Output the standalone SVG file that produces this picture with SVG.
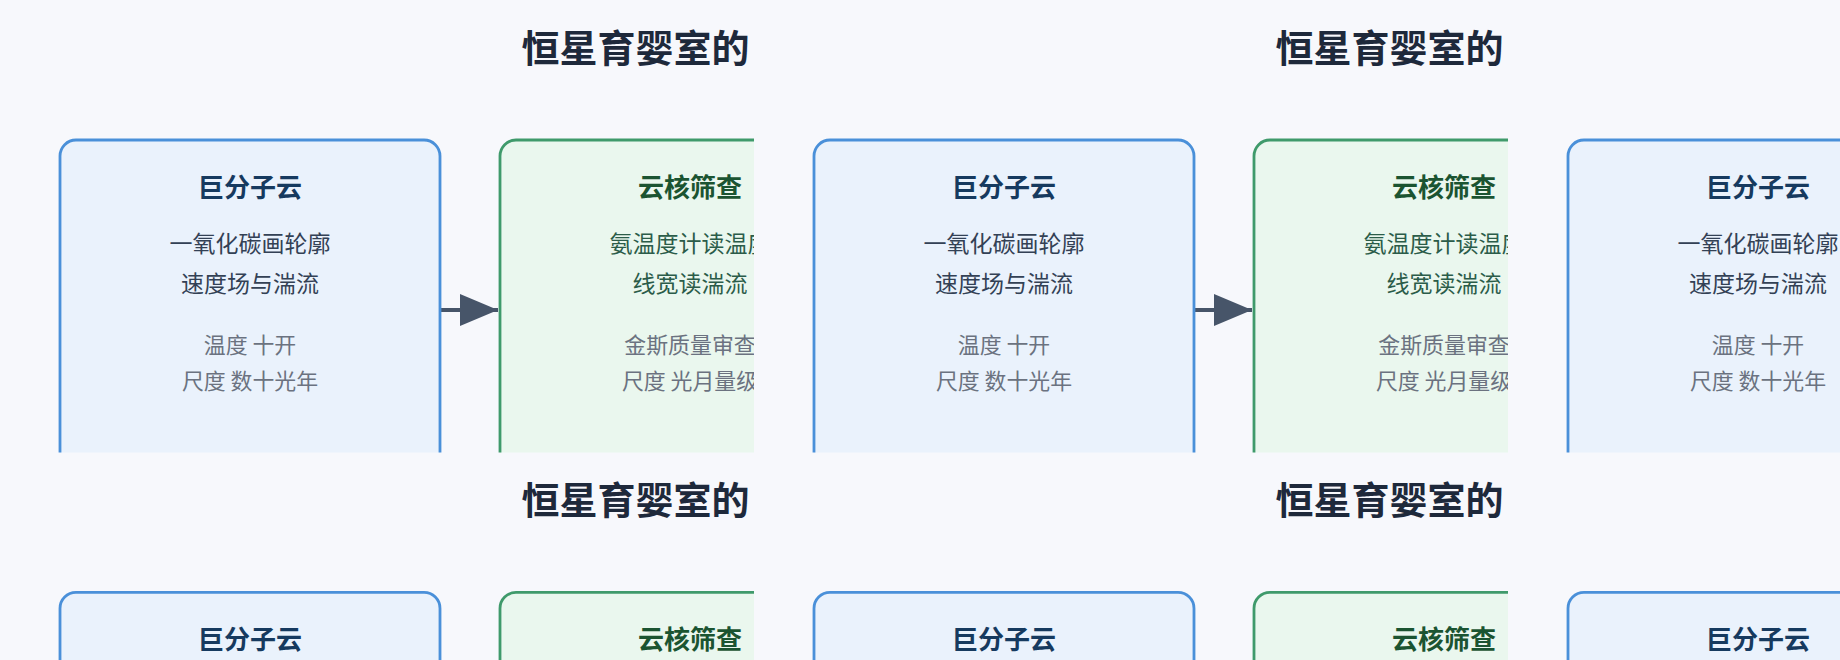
<svg xmlns="http://www.w3.org/2000/svg" xmlns:xlink="http://www.w3.org/1999/xlink" width="1840" height="660" viewBox="0 0 1840 660">
  <style>
    text { font-family: "Noto Sans CJK SC", "Noto Sans", sans-serif; text-anchor: middle; }
    .title { font-size: 38px; font-weight: 700; fill: #1e293b; text-anchor: start; }
    .box { stroke-width: 2.8; }
    .blue { fill: #eaf2fc; stroke: #4a90d9; }
    .green { fill: #eaf7ee; stroke: #3f9a6b; }
    .h { font-size: 26px; font-weight: 700; }
    .hb { fill: #163a5f; }
    .hg { fill: #1b5431; }
    .b { font-size: 23px; }
    .bb { fill: #334155; }
    .bg { fill: #2b5c49; }
    .m { font-size: 21.9px; fill: #6b7280; }
    .conn { stroke: #475569; stroke-width: 4; fill: none; }
  </style>
  <defs>
    <clipPath id="tileClip">
      <rect x="0" y="0" width="754" height="452.4"/>
    </clipPath>
    <marker id="arrow" markerUnits="userSpaceOnUse" markerWidth="38" markerHeight="32" refX="38" refY="16" orient="auto">
      <path d="M0,0 L38,16 L0,32 Z" fill="#475569"/>
    </marker>
  </defs>
  <rect x="0" y="0" width="1840" height="660" fill="#f7f8fc"/>
  <g id="tile" clip-path="url(#tileClip)">
    <text class="title" x="521.5" y="62">恒星育婴室的</text>
    <g id="connectors">
      <line class="conn" x1="440" y1="310" x2="498" y2="310" marker-end="url(#arrow)"/>
    </g>
    <g id="node-giant-cloud">
      <rect class="box blue" x="60" y="140" width="380" height="340" rx="16"/>
      <text class="h hb" x="250" y="196.5">巨分子云</text>
      <text class="b bb" x="250" y="252">一氧化碳画轮廓</text>
      <text class="b bb" x="250" y="292">速度场与湍流</text>
      <text class="m" x="250" y="353">温度 十开</text>
      <text class="m" x="250" y="389">尺度 数十光年</text>
    </g>
    <g id="node-core-screening">
      <rect class="box green" x="500" y="140" width="380" height="340" rx="16"/>
      <text class="h hg" x="690" y="196.5">云核筛查</text>
      <text class="b bg" x="690" y="252">氨温度计读温度</text>
      <text class="b bg" x="690" y="292">线宽读湍流</text>
      <text class="m" x="690" y="353">金斯质量审查</text>
      <text class="m" x="690" y="389">尺度 光月量级</text>
    </g>
  </g>
  <use xlink:href="#tile" x="754" y="0"/>
  <use xlink:href="#tile" x="1508" y="0"/>
  <use xlink:href="#tile" x="0" y="452.4"/>
  <use xlink:href="#tile" x="754" y="452.4"/>
  <use xlink:href="#tile" x="1508" y="452.4"/>
</svg>
